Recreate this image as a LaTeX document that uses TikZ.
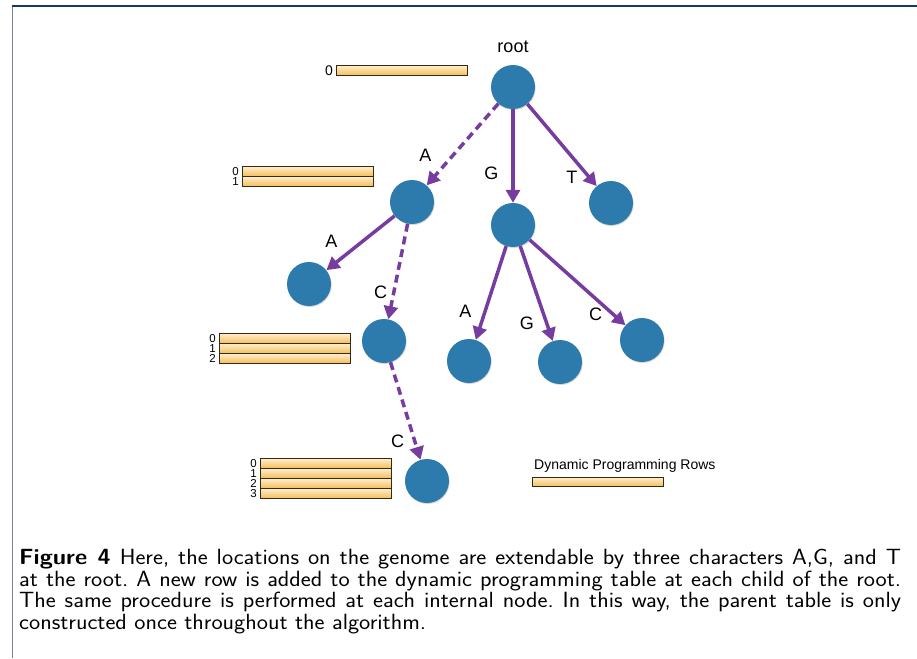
\documentclass[tikz,border=0pt]{standalone}
\usepackage{fontspec}
\setmainfont{Liberation Sans}
\usetikzlibrary{arrows.meta,shadows,positioning}

\definecolor{nodeblue}{RGB}{45,122,172}
\definecolor{edgepurple}{RGB}{118,60,160}
\definecolor{rowtop}{RGB}{253,238,204}
\definecolor{rowbottom}{RGB}{245,188,88}
\definecolor{rowedge}{RGB}{55,42,20}
\definecolor{framenavy}{RGB}{16,58,107}
\definecolor{framegray}{RGB}{120,130,145}

\begin{document}
\begin{tikzpicture}[x=1pt,y=-1pt,->,>={Triangle[length=13pt,width=14pt]},
    vertex/.style={circle,fill=nodeblue,minimum size=44pt,inner sep=0pt,
      drop shadow={shadow xshift=0.7pt,shadow yshift=-1pt,opacity=0.3}},
    link/.style={draw=edgepurple,line width=3.5pt},
    dashlink/.style={link,dash pattern=on 8pt off 5pt},
    letter/.style={font=\fontsize{18}{18}\selectfont,inner sep=0pt,text=black},
    dprow/.style={draw=rowedge,line width=1.1pt,top color=rowtop,bottom color=rowbottom,
      minimum width=131pt,minimum height=10pt,inner sep=0pt,anchor=north west},
    rownum/.style={font=\fontsize{11.5}{11.5}\selectfont,inner sep=0pt}]

  \useasboundingbox (0,0) rectangle (917,658);
  \draw[-,framegray,line width=1pt] (12,6) -- (12,658);
  \draw[-,framenavy,line width=2pt] (11.5,6) -- (917,6);

  \node[letter] (root label) at (513,47) {root};

  \node[vertex] (Root) at (513,87) {};
  \node[vertex] (A) at (412,202) {};
  \node[vertex] (G) at (513,225) {};
  \node[vertex] (T) at (611,203) {};
  \node[vertex] (AA) at (309,284) {};
  \node[vertex] (AC) at (384,341) {};
  \node[vertex] (GA) at (469,361) {};
  \node[vertex] (GG) at (560,362) {};
  \node[vertex] (GC) at (642,340) {};
  \node[vertex] (ACC) at (427,481) {};

  \path (Root) edge[dashlink] node[letter,pos=0.63,left=20pt] {A} (A)
        (Root) edge[link]     node[letter,pos=0.68,left=13pt] {G} (G)
        (Root) edge[link]     node[letter,pos=0.89,left=10pt] {T} (T)
        (A) edge[link]        node[letter,pos=0.46,left=24pt] {A} (AA)
        (A) edge[dashlink]    node[letter,pos=0.72,left=5pt]  {C} (AC)
        (G) edge[link]        node[letter,pos=0.69,left=12pt] {A} (GA)
        (G) edge[link]        node[letter,pos=0.81,left=11pt] {G} (GG)
        (G) edge[link]        node[letter,pos=0.87,left=9pt]  {C} (GC)
        (AC) edge[dashlink]   node[letter,pos=0.81,left=9pt]  {C} (ACC);

  % tables of rows
  \node[dprow] (row-0) at (336,65) {};
  \node[rownum,font=\fontsize{14}{14}\selectfont,left=3pt of row-0] (num-0) {0};
  \foreach \r in {0,1} {
    \node[dprow] (rowA-\r) at (242,166+10*\r) {};
    \node[rownum,left=3pt of rowA-\r] (numA-\r) {\r};
  }
  \foreach \r in {0,1,2} {
    \node[dprow] (rowAC-\r) at (219,333+10*\r) {};
    \node[rownum,left=3pt of rowAC-\r] (numAC-\r) {\r};
  }
  \foreach \r in {0,...,3} {
    \node[dprow] (rowACC-\r) at (260,458+10*\r) {};
    \node[rownum,left=3pt of rowACC-\r] (numACC-\r) {\r};
  }

  \node[dprow,minimum height=9pt] (legend row) at (532,477) {};
  \node[anchor=base west,inner sep=0pt,font=\fontsize{14}{14}\selectfont] (legend) at (534,469) {Dynamic Programming Rows};

  % caption, set a little wide
  \begin{scope}[shift={(19,549)},xscale=1.08]
    \node[transform shape,anchor=north west,inner sep=0pt,text width=816.6pt,align=justify,
          font=\sffamily\fontsize{22}{21.7}\selectfont\frenchspacing] (caption) at (0,0)
      {\textbf{Figure 4} Here, the locations on the genome are extendable by three characters A,G, and T\linebreak
       at the root. A new row is added to the dynamic programming table at each child of the root.\linebreak
       The same procedure is performed at each internal node. In this way, the parent table is only\linebreak
       constructed once throughout the algorithm.};
  \end{scope}
\end{tikzpicture}
\end{document}
